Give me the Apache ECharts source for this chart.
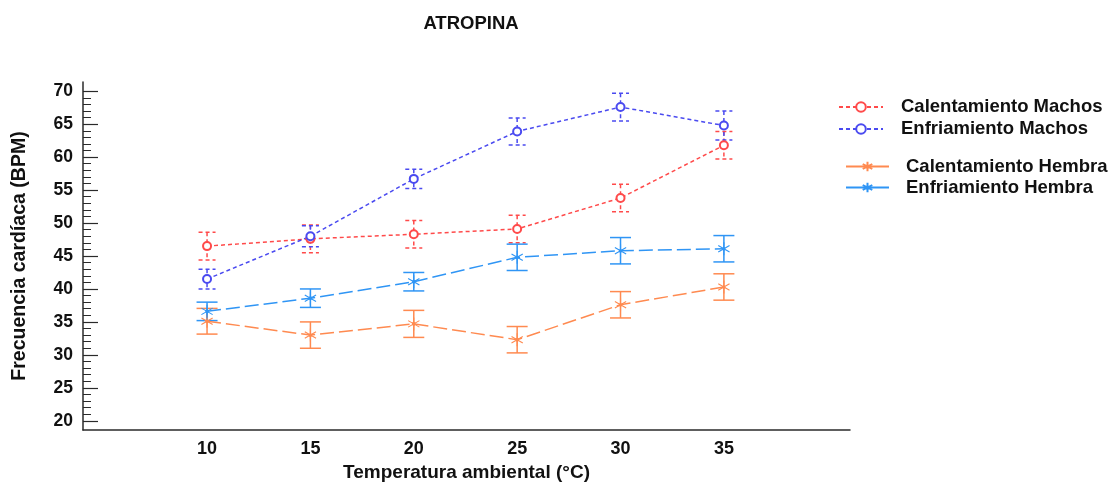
<!DOCTYPE html>
<html><head><meta charset="utf-8">
<script src="https://cdn.jsdelivr.net/npm/echarts@6/dist/echarts.min.js"></script>
<style>html,body{margin:0;padding:0;background:#fff}#c{width:1116px;height:487px}</style>
</head><body><div id="c"></div>
<script>
// ---- data ----
const temperatures = [10, 15, 20, 25, 30, 35];
const yTickLabels = [20, 25, 30, 35, 40, 45, 50, 55, 60, 65, 70];
const calMachos    = [46.5, 47.6, 48.3, 49.1, 53.8, 61.8];
const calMachosErr = [2.1, 2.1, 2.1, 2.1, 2.1, 2.1];
const enfMachos    = [41.5, 48.0, 56.7, 63.9, 67.6, 64.8];
const enfMachosErr = [1.5, 1.6, 1.45, 2.05, 2.1, 2.2];
const calHembra    = [35.1, 33.0, 34.7, 32.3, 37.6, 40.3];
const calHembraErr = [1.95, 2.0, 2.05, 2.0, 2.0, 2.0];
const enfHembra    = [36.6, 38.6, 41.1, 44.8, 45.8, 46.1];
const enfHembraErr = [1.4, 1.4, 1.4, 2.0, 2.0, 2.0];

// ---- styles ----
const FONT = '"Liberation Sans", Arial, sans-serif';
const AX = '#2a2a2a';
const C_RED = '#ff4a4a', C_BLUE = '#4a4af0', C_ORANGE = '#ff8a50', C_LBLUE = '#2f95f5';
const ASTER = 'path://M6,0L6,12M0.8,3L11.2,9M0.8,9L11.2,3M7.2,6A1.2,1.2,0,1,1,4.8,6A1.2,1.2,0,1,1,7.2,6Z';

const minorTicks = [];
for (let v = yTickLabels[0] + 1; v < yTickLabels[yTickLabels.length - 1]; v++) {
  if (v % 5 !== 0) minorTicks.push(v);
}

function lineSeries(name, means, color, machos) {
  return {
    type: 'line', name: name,
    data: temperatures.map((t, i) => [t, means[i]]),
    symbol: machos ? 'emptyCircle' : ASTER,
    symbolSize: machos ? 8 : 13,
    symbolKeepAspect: true,
    lineStyle: { color: color, width: 1.5, type: machos ? [4, 3] : [14, 5] },
    itemStyle: machos ? { color: color, borderColor: color, borderWidth: 1 }
                      : { color: color, borderColor: color, borderWidth: 1.1 },
    z: 3, animation: false
  };
}
function errorSeries(name, means, errs, color, machos) {
  const capW = machos ? 17 : 21;
  return {
    type: 'custom', name: name + ' error',
    data: temperatures.map((t, i) => [t, means[i] - errs[i], means[i] + errs[i]]),
    encode: { x: 0, y: [1, 2] },
    renderItem: function (params, api) {
      const x = api.value(0), lo = api.value(1), hi = api.value(2);
      const p1 = api.coord([x, hi]), p2 = api.coord([x, lo]);
      const st = { stroke: color, lineWidth: 1.5, fill: null, lineDash: machos ? [4, 3] : null };
      return { type: 'group', children: [
        { type: 'line', shape: { x1: p1[0], y1: p1[1], x2: p2[0], y2: p2[1] }, style: st },
        { type: 'line', shape: { x1: p1[0] - capW / 2, y1: p1[1], x2: p1[0] + capW / 2, y2: p1[1] }, style: st },
        { type: 'line', shape: { x1: p2[0] - capW / 2, y1: p2[1], x2: p2[0] + capW / 2, y2: p2[1] }, style: st }
      ]};
    },
    silent: true, z: 2, animation: false
  };
}

const chart = echarts.init(document.getElementById('c'), null, { renderer: 'canvas' });
chart.setOption({
  backgroundColor: '#fff',
  animation: false,
  title: {
    text: 'ATROPINA', left: 466, top: 9, textAlign: 'center',
    textStyle: { fontFamily: FONT, fontSize: 18.5, fontWeight: 'bold', color: '#111' }
  },
  legend: [{
    data: ['Calentamiento Machos', 'Enfriamiento Machos'],
    orient: 'vertical', left: 838, top: 96, padding: 0,
    itemWidth: 44, itemHeight: 12, itemGap: 0,
    textStyle: { fontFamily: FONT, fontSize: 18.5, fontWeight: 'bold', color: '#111', lineHeight: 22, padding: [0, 0, 0, 13] }
  }, {
    data: ['Calentamiento Hembra', 'Enfriamiento Hembra'],
    orient: 'vertical', left: 845, top: 156, padding: 0,
    itemWidth: 43, itemHeight: 12, itemGap: 0,
    lineStyle: { type: 'solid' },
    textStyle: { fontFamily: FONT, fontSize: 18.5, fontWeight: 'bold', color: '#111', lineHeight: 21, padding: [0, 0, 0, 12] }
  }],
  grid: { left: 83, right: 266, top: 82, bottom: 57, containLabel: false },
  xAxis: {
    type: 'value', min: 4, max: 41.1,
    axisLine: { show: true, lineStyle: { color: AX, width: 1.5 } },
    axisTick: { show: false },
    splitLine: { show: false },
    axisLabel: { customValues: temperatures, margin: 10, fontFamily: FONT, fontSize: 18, fontWeight: 'bold', color: '#111' },
    name: 'Temperatura ambiental (°C)', nameLocation: 'middle', nameGap: 33,
    nameTextStyle: { fontFamily: FONT, fontSize: 19, fontWeight: 'bold', color: '#111' }
  },
  yAxis: [{
    type: 'value', min: 18.6, max: 71.4, position: 'left',
    axisLine: { show: true, lineStyle: { color: AX, width: 1.5 } },
    axisTick: { show: true, inside: true, length: 15, customValues: yTickLabels, lineStyle: { color: AX, width: 1.2 } },
    axisLabel: { customValues: yTickLabels, margin: 10, fontFamily: FONT, fontSize: 17.5, fontWeight: 'bold', color: '#111' },
    splitLine: { show: false },
    name: 'Frecuencia cardíaca (BPM)', nameLocation: 'middle', nameGap: 53,
    nameTextStyle: { fontFamily: FONT, fontSize: 19.5, fontWeight: 'bold', color: '#111' }
  }, {
    type: 'value', min: 18.6, max: 71.4, position: 'left', offset: 0,
    axisLine: { show: false },
    axisTick: { show: true, inside: true, length: 8, customValues: minorTicks, lineStyle: { color: AX, width: 1 } },
    axisLabel: { show: false },
    splitLine: { show: false }
  }],
  series: [
    lineSeries('Calentamiento Machos', calMachos, C_RED, true),
    lineSeries('Enfriamiento Machos', enfMachos, C_BLUE, true),
    lineSeries('Calentamiento Hembra', calHembra, C_ORANGE, false),
    lineSeries('Enfriamiento Hembra', enfHembra, C_LBLUE, false),
    errorSeries('Calentamiento Machos', calMachos, calMachosErr, C_RED, true),
    errorSeries('Enfriamiento Machos', enfMachos, enfMachosErr, C_BLUE, true),
    errorSeries('Calentamiento Hembra', calHembra, calHembraErr, C_ORANGE, false),
    errorSeries('Enfriamiento Hembra', enfHembra, enfHembraErr, C_LBLUE, false)
  ]
});
</script></body></html>
